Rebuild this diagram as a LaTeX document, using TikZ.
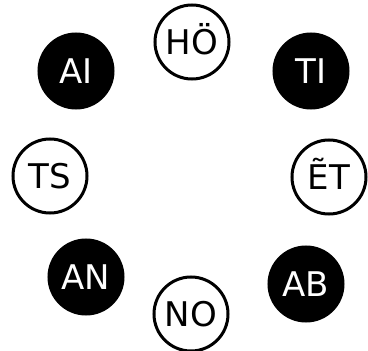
\documentclass[tikz,border=0pt]{standalone}
\usepackage{fontspec}
\setmainfont{DejaVu Sans}
\begin{document}
\begin{tikzpicture}[x=1pt,y=-1pt,
  base/.style={circle,line width=3pt,draw=black,minimum size=74pt,inner sep=0pt,
    font=\fontsize{34}{34}\selectfont,text height=25pt,text depth=0pt},
  light/.style={base,fill=white,text=black},
  dark/.style={base,fill=black,text=white}]
\useasboundingbox (0,0) rectangle (368,351);
\node[light] (ho) at (192,42) {HÖ};
\node[dark]  (ti) at (311,71) {TI};
\node[light] (et) at (329,177) {ẼT};
\node[dark]  (ab) at (306,284) {AB};
\node[light] (no) at (191,314) {NO};
\node[dark]  (an) at (86,277) {AN};
\node[light] (ts) at (50,176) {TS};
\node[dark]  (ai) at (76,71) {AI};
\end{tikzpicture}
\end{document}
